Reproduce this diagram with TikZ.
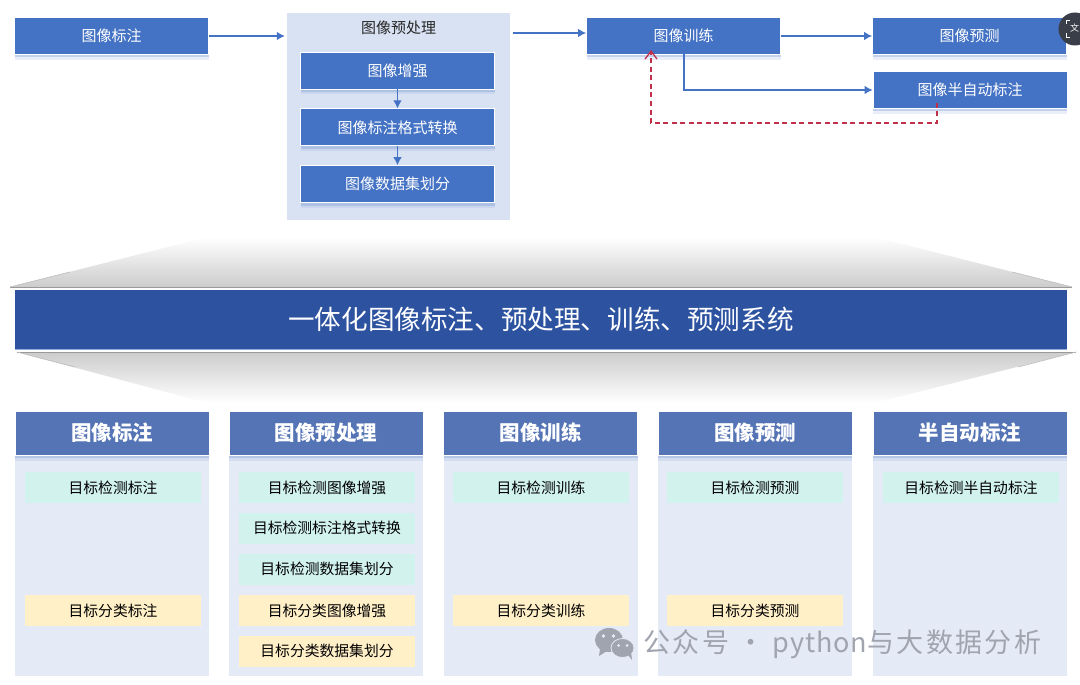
\documentclass[tikz,border=0pt]{standalone}
\usepackage{fontspec}
\setmainfont{Noto Sans CJK SC}
\newfontfamily\markfont[LetterSpace=9]{Noto Sans CJK SC}
\newfontfamily\marklatin[LetterSpace=3]{Noto Sans CJK SC}
\definecolor{flowblue}{RGB}{68, 114, 196}
\definecolor{bandblue}{RGB}{44, 82, 160}
\definecolor{headblue}{RGB}{84, 116, 181}
\definecolor{panelblue}{RGB}{217, 226, 243}
\definecolor{colblue}{RGB}{228, 234, 246}
\definecolor{detectgreen}{RGB}{210, 242, 238}
\definecolor{classyellow}{RGB}{255, 240, 200}
\definecolor{backred}{RGB}{192, 48, 72}
\definecolor{markgray}{RGB}{160, 164, 174}
\definecolor{badgegray}{RGB}{58, 62, 72}
\usetikzlibrary{arrows.meta, shadows, positioning}
\tikzset{
  softshadow/.style={
    drop shadow={shadow xshift=0pt, shadow yshift=-5.5pt, fill=flowblue!60, opacity=0.2},
    drop shadow={shadow xshift=0pt, shadow yshift=-3pt, fill=flowblue!70, opacity=0.35}},
  flowbox/.style={draw=white, line width=0.8pt, fill=flowblue, text=white, font=\fontsize{15}{18}\selectfont,
    minimum width=194pt, minimum height=37pt, inner sep=0pt, softshadow},
  headbox/.style={draw=white, line width=0.8pt, fill=headblue, text=white, font=\fontsize{20.5}{24}\selectfont\bfseries,
    minimum width=194pt, minimum height=44pt, inner sep=0pt, softshadow},
  colpanel/.style={fill=colblue, minimum width=194pt, minimum height=221pt, inner sep=0pt},
  detectbox/.style={fill=detectgreen, text=black, font=\fontsize{14.8}{18}\selectfont,
    minimum width=176pt, minimum height=31pt, inner sep=0pt},
  classbox/.style={detectbox, fill=classyellow},
  flowarrow/.style={draw=flowblue, line width=1.1pt, -{Latex[length=8pt, width=8.5pt]}},
  backarrow/.style={draw=backred, line width=1.3pt, dash pattern=on 5pt off 3.5pt, -{Straight Barb[length=8pt, width=12pt]}}
}

\begin{document}
\begin{tikzpicture}[x=1pt, y=-1pt]
  \useasboundingbox (0, 0) rectangle (1080, 685);
  \clip (0, 0) rectangle (1080, 685);

  % Pipeline along the top
  \node[flowbox] (toplabel) at (111.5, 36) {图像标注};
  \node[fill=panelblue, minimum width=223pt, minimum height=207pt, inner sep=0pt] (prepanel) at (398.5, 116.5) {};
  \node[font=\fontsize{15}{18}\selectfont, text=black!85] (pretitle) at (398.5, 28) {图像预处理};
  \node[flowbox] (enhance) at (397.5, 70.5) {图像增强};
  \node[flowbox, below=19pt of enhance] (convert) {图像标注格式转换};
  \node[flowbox, below=19pt of convert] (split) {图像数据集划分};
  \node[flowbox] (toptrain) at (683.5, 36) {图像训练};
  \node[flowbox] (toppredict) at (969.5, 36) {图像预测};
  \node[flowbox] (topsemi) at (970, 90) {图像半自动标注};

  % Arrows between the steps
  \coordinate (trainin) at (toptrain.west |- 0, 33);
  \coordinate (traindown) at (684, 54);
  \coordinate (semifrom) at (937, 103);
  \coordinate (trainback) at (651, 50);
  \draw[flowarrow, shorten >=2pt] (toplabel.east) -- (prepanel.west |- toplabel.east);
  \draw[flowarrow, shorten <=3pt] (prepanel.east |- trainin) -- (trainin);
  \draw[flowarrow] (enhance) -- (convert);
  \draw[flowarrow] (convert) -- (split);
  \draw[flowarrow] (toptrain) -- (toppredict);
  \draw[flowarrow] (traindown) |- (topsemi.west);
  \draw[backarrow] (semifrom) -- (937, 123) -| (trainback);

  % Grey funnels round the system band
  \shade[top color=white, bottom color=black!20] (207, 237) -- (875, 237) -- (1072, 287) -- (10, 287) -- cycle;
  \shade[top color=black!20, bottom color=white] (17, 352) -- (1076, 352) -- (875, 403) -- (207, 403) -- cycle;
  \draw[black!40, line width=1pt] (10, 287) -- (1072, 287);
  \draw[black!40, line width=1pt] (17, 352) -- (1076, 352);
  \draw[black!25, line width=0.7pt] (10, 287) -- (70, 272);
  \draw[black!25, line width=0.7pt] (1072, 287) -- (1012, 272);
  \draw[black!25, line width=0.7pt] (17, 352) -- (75, 367);
  \draw[black!25, line width=0.7pt] (1076, 352) -- (1018, 367);

  % System band
  \node[fill=bandblue, text=white, font=\fontsize{26.6}{32}\selectfont, minimum width=1052pt, minimum height=59pt, inner sep=0pt,
    drop shadow={shadow xshift=0pt, shadow yshift=-1.5pt, fill=flowblue, opacity=0.6}] (system) at (541, 319) {一体化图像标注、预处理、训练、预测系统};

  % Column panels
  \node[colpanel] (labelcol) at (112, 565.5) {};
  \node[colpanel] (precol) at (326, 565.5) {};
  \node[colpanel] (traincol) at (540.5, 565.5) {};
  \node[colpanel] (predictcol) at (755, 565.5) {};
  \node[colpanel] (semicol) at (970, 565.5) {};

  % Column heads
  \node[headbox] (labelhead) at (112, 433) {图像标注};
  \node[headbox] (prehead) at (326, 433) {图像预处理};
  \node[headbox] (trainhead) at (540.5, 433) {图像训练};
  \node[headbox] (predicthead) at (755, 433) {图像预测};
  \node[headbox] (semihead) at (970, 433) {半自动标注};

  % Detection items
  \node[detectbox] (labeldet) at (113, 487.5) {目标检测标注};
  \node[detectbox] (predet1) at (327, 487.5) {目标检测图像增强};
  \node[detectbox] (predet2) at (327, 528) {目标检测标注格式转换};
  \node[detectbox] (predet3) at (327, 569) {目标检测数据集划分};
  \node[detectbox] (traindet) at (541, 487.5) {目标检测训练};
  \node[detectbox] (predictdet) at (755, 487.5) {目标检测预测};
  \node[detectbox] (semidet) at (971, 487.5) {目标检测半自动标注};

  % Classification items
  \node[classbox] (labelcls) at (113, 610.5) {目标分类标注};
  \node[classbox] (precls1) at (327, 610.5) {目标分类图像增强};
  \node[classbox] (precls2) at (327, 651) {目标分类数据集划分};
  \node[classbox] (traincls) at (541, 610.5) {目标分类训练};
  \node[classbox] (predictcls) at (755, 610.5) {目标分类预测};

  % Watermark
  \fill[markgray] (609, 640) ellipse (14 and 12);
  \fill[markgray] (600, 649) -- (599, 656) -- (607, 651) -- cycle;
  \fill[markgray, draw=colblue, line width=0.8pt] (622.5, 648) ellipse (11.5 and 9.5);
  \fill[markgray] (628, 655) -- (632, 660) -- (631, 652) -- cycle;
  \fill[colblue] (603.5, 636) circle (1.8);
  \fill[colblue] (613.5, 636) circle (1.8);
  \fill[colblue] (618.5, 645.5) circle (1.5);
  \fill[colblue] (627, 645.5) circle (1.5);
  \node[anchor=west, inner sep=0pt, text=markgray, font=\fontsize{27}{30}\markfont] (mark) at (643, 644) {公众号 · {\marklatin python}与大数据分析};

  % Translate badge in the corner
  \fill[badgegray] (1075, 29) circle (16.5);
  \draw[white, line width=0.9pt] (1066, 24) -- (1066, 20.5) -- (1070, 20.5);
  \draw[white, line width=0.9pt] (1066, 33) -- (1066, 37) -- (1070, 37);
  \node[text=white, inner sep=0pt, font=\fontsize{9}{10}\selectfont] (badge) at (1074.5, 28.5) {文};
\end{tikzpicture}
\end{document}
